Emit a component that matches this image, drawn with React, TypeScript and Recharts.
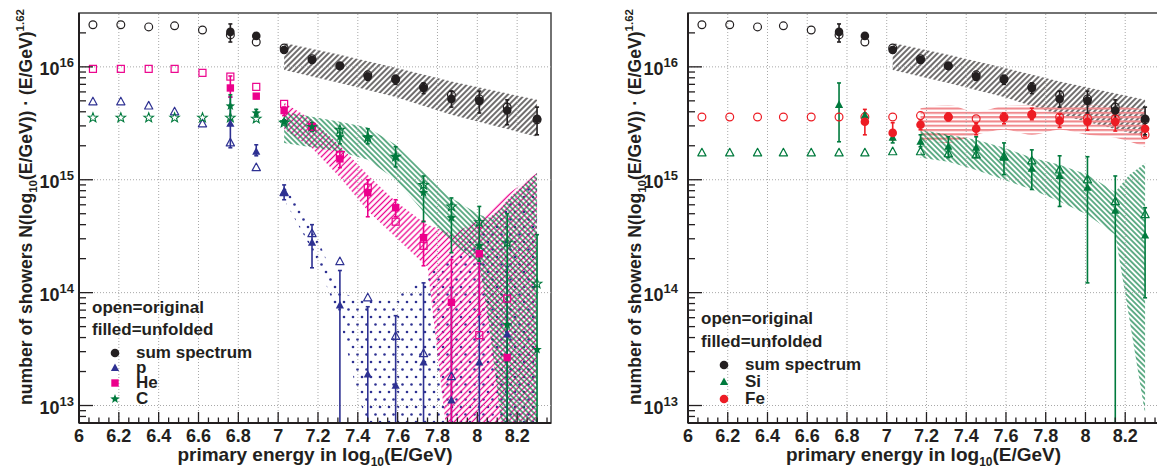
import React from 'react';
import {
  ComposedChart,
  Area,
  Scatter,
  ErrorBar,
  XAxis,
  YAxis,
  ReferenceLine,
  ReferenceArea,
} from 'recharts';

const FONT = '"Liberation Sans", Arial, Helvetica, sans-serif';
const INK = '#231f20';
const BLUE = '#2e3192';
const PINK = '#ec008c';
const GREEN = '#007a3d';
const RED = '#ed1c24';

const X_MIN = 6;
const X_MAX = 8.37;
const Y_MIN = 7e12;
const Y_MAX = 3e16;
const FLOOR = Y_MIN; // bars / bands that run off the bottom of the frame

// bin centres, log10(E/GeV)
const binX = [6.07, 6.21, 6.35, 6.48, 6.62, 6.76, 6.89, 7.03, 7.17, 7.31, 7.45, 7.59, 7.73, 7.87, 8.01, 8.15, 8.3];
const unfoldX = binX.slice(5); // 6.76 .. 8.30

// ---- sum spectrum (both panels)
const sumOpen = [2.36e16, 2.36e16, 2.26e16, 2.31e16, 2.12e16, 1.92e16, 1.66e16, 1.47e16, 1.18e16, 1.02e16, 8.5e15, 7.8e15, 6.65e15, 5.65e15, 5.2e15, 4.4e15, 3.4e15];
const sumFilled = [2.04e16, 1.88e16, 1.41e16, 1.15e16, 1.02e16, 8.2e15, 7.7e15, 6.5e15, 5.2e15, 5.0e15, 4.1e15, 3.47e15];
const sumHi = [2.4e16, 1.98e16, 1.5e16, 1.22e16, 1.08e16, 8.8e15, 8.4e15, 7.2e15, 6.1e15, 6.1e15, 5.1e15, 4.4e15];
const sumLo = [1.66e16, 1.8e16, 1.33e16, 1.08e16, 9.6e15, 7.6e15, 7.0e15, 5.8e15, 4.4e15, 3.9e15, 3.07e15, 2.5e15];
const sumBandX = [7.03, 7.31, 7.59, 7.87, 8.3];
const sumBandHi = [1.63e16, 1.28e16, 9.8e15, 7.4e15, 5.1e15];
const sumBandLo = [9.4e15, 7.2e15, 5.4e15, 3.76e15, 2.4e15];

// ---- p
const pOpen = [4.9e15, 4.9e15, 4.5e15, 4.0e15, 3.13e15, 2.12e15, 1.28e15, 7.7e14, 3.33e14, 1.88e14, 9.0e13, 4.1e13, 2.88e13, 1.8e13, null, null, null];
const pX = binX.slice(5, 16);
const pFilled = [3.13e15, 1.77e15, 7.8e14, 2.77e14, 7.7e13, 1.88e13, 1.5e13, 2.4e13, 1.11e13, 2.4e13, 4.25e13];
const pHi = [5.4e15, 2.04e15, 9.0e14, 4.0e14, 1.57e14, 7.5e13, 6.25e13, 1.22e14, 1.11e14, 1.8e14, 1.7e14];
const pLo = [1.92e15, 1.63e15, 6.65e14, 1.66e14, FLOOR, FLOOR, FLOOR, FLOOR, FLOOR, FLOOR, FLOOR];
const pBandX = [7.03, 7.17, 7.31, 7.4, 7.45, 7.59, 7.73, 7.87, 8.01, 8.15, 8.3];
const pBandHi = [8.7e14, 4.0e14, 1.0e14, 9.0e13, 8.7e13, 9.2e13, 1.3e14, 2.17e14, 3.26e14, 6.0e14, 1.0e15];
const pBandLo = [6.65e14, 2.4e14, 5.8e13, 1.2e13, FLOOR, FLOOR, FLOOR, FLOOR, FLOOR, FLOOR, FLOOR];

// ---- He
const heOpen = [9.6e15, 9.6e15, 9.6e15, 9.6e15, 8.85e15, 8.2e15, 6.65e15, 4.7e15, 2.94e15, 1.66e15, 8.5e14, 4.25e14, 2.6e14, null, 4.2e13, 8.85e13, null];
const heX = binX.slice(5, 16);
const heFilled = [6.5e15, 5.5e15, 4.1e15, 2.94e15, 1.53e15, 7.7e14, 5.65e14, 3.07e14, 8.2e13, 2.21e14, 2.66e13];
const heHi = [8.3e15, 5.7e15, 4.4e15, 3.2e15, 1.77e15, 1.0e15, 6.65e14, 4.3e14, 1.96e14, 3.76e14, 2.8e13];
const heLo = [5.4e15, 5.3e15, 3.7e15, 2.7e15, 1.28e15, 4.7e14, 4.7e14, 1.73e14, FLOOR, 6.4e13, 2.5e13];
const heBandX = [7.03, 7.17, 7.31, 7.45, 7.59, 7.73, 7.75, 7.84, 7.87, 8.01, 8.15, 8.3];
const heBandHi = [4.8e15, 3.4e15, 2.0e15, 1.1e15, 6.4e14, 4.2e14, 4.0e14, 3.5e14, 3.26e14, 4.4e14, 7.4e14, 1.15e15];
const heBandLo = [2.8e15, 1.9e15, 1.05e15, 5.3e14, 3.1e14, 1.8e14, 1.7e14, FLOOR, FLOOR, FLOOR, FLOOR, FLOOR];

// ---- C
const cOpen = [3.54e15, 3.54e15, 3.54e15, 3.54e15, 3.54e15, 3.54e15, 3.47e15, 3.2e15, 2.94e15, 2.77e15, 2.36e15, 1.6e15, 9.0e14, 5.8e14, 4.2e14, 2.77e14, 1.2e14];
const cFilled = [4.5e15, 3.9e15, 3.26e15, 2.94e15, 2.4e15, 2.4e15, 1.6e15, 7.7e14, 4.6e14, 2.6e14, 5.2e13, 3.13e13];
const cHi = [5.65e15, 4.2e15, 3.4e15, 3.2e15, 2.83e15, 2.83e15, 1.96e15, 1.08e15, 6.9e14, 5.8e14, 5.0e14, 3.26e14];
const cLo = [3.4e15, 3.6e15, 3.13e15, 2.7e15, 2.08e15, 2.08e15, 1.3e15, 4.25e14, 2.26e14, 1.9e14, FLOOR, FLOOR];
const cBandX = [7.03, 7.31, 7.45, 7.59, 7.73, 7.87, 8.01, 8.06, 8.12, 8.15, 8.3];
const cBandHi = [4.0e15, 3.26e15, 2.9e15, 2.04e15, 1.18e15, 6.9e14, 4.9e14, 4.6e14, 5.6e14, 6.6e14, 1.15e15];
const cBandLo = [2.12e15, 1.77e15, 1.5e15, 1.0e15, 5.2e14, 2.77e14, 1.8e14, 5.0e13, FLOOR, FLOOR, FLOOR];

// ---- Fe
const feOpen = [3.6e15, 3.6e15, 3.6e15, 3.6e15, 3.6e15, 3.6e15, 3.6e15, 3.6e15, 3.7e15, 3.6e15, 3.47e15, 3.6e15, 3.76e15, 3.6e15, 3.5e15, 3.47e15, 2.5e15];
const feX = binX.slice(6);
const feFilled = [3.26e15, 2.6e15, 3.07e15, 3.6e15, 2.83e15, 3.54e15, 3.8e15, 3.33e15, 3.26e15, 3.26e15, 2.83e15];
const feHi = [4.2e15, 3.2e15, 3.4e15, 3.9e15, 3.13e15, 3.9e15, 4.3e15, 3.8e15, 3.8e15, 3.75e15, 3.3e15];
const feLo = [2.5e15, 2.26e15, 2.77e15, 3.33e15, 2.5e15, 3.13e15, 3.4e15, 2.9e15, 2.75e15, 2.7e15, 2.4e15];
const feBandX = [7.17, 7.31, 7.45, 7.59, 7.73, 7.87, 8.01, 8.15, 8.3];
const feBandHi = [4.3e15, 4.6e15, 4.0e15, 4.5e15, 4.6e15, 4.5e15, 4.6e15, 4.5e15, 4.2e15];
const feBandLo = [2.26e15, 2.12e15, 2.5e15, 2.77e15, 2.5e15, 2.77e15, 2.5e15, 2.36e15, 1.96e15];

// ---- Si
const siOpen = [1.73e15, 1.73e15, 1.73e15, 1.73e15, 1.73e15, 1.73e15, 1.73e15, 1.77e15, 1.77e15, 1.7e15, 1.66e15, 1.6e15, 1.47e15, 1.22e15, 1.0e15, 6.4e14, 4.9e14];
const siFilled = [4.6e15, 3.7e15, 2.36e15, 2.17e15, 1.96e15, 1.92e15, 1.57e15, 1.25e15, 1.08e15, 8.5e14, 5.3e14, 3.2e14];
const siHi = [7.2e15, 3.9e15, 2.5e15, 2.5e15, 2.4e15, 2.4e15, 2.12e15, 1.84e15, 1.63e15, 1.6e15, 1.08e15, 5.65e14];
const siLo = [2.17e15, 3.5e15, 2.12e15, 1.96e15, 1.57e15, 1.57e15, 1.11e15, 8.2e14, 5.8e14, 1.22e14, FLOOR, 9.0e13];
const siBandX = [7.17, 7.31, 7.45, 7.59, 7.73, 7.87, 8.01, 8.15, 8.22, 8.3];
const siBandHi = [2.77e15, 2.5e15, 2.26e15, 1.92e15, 1.57e15, 1.36e15, 1.11e15, 7.8e14, 1.1e15, 1.4e15];
const siBandLo = [1.57e15, 1.44e15, 1.22e15, 1.0e15, 8.2e14, 6.4e14, 4.9e14, 3.26e14, 6.0e13, 8.4e12];

// axis ticks
const xTicks = Array.from({ length: 48 }, (_, i) => (600 + 5 * i) / 100);
const gridX = [6.2, 6.4, 6.6, 6.8, 7, 7.2, 7.4, 7.6, 7.8, 8, 8.2];
const gridY = [1e13, 1e14, 1e15, 1e16];
const yTicks: number[] = [];
for (let e = 12; e <= 16; e++) {
  for (let m = 1; m <= 9; m++) {
    const v = m * Math.pow(10, e);
    if (v > Y_MIN * 1.001 && v < Y_MAX * 0.999) yTicks.push(v);
  }
}

type Kind = 'circle' | 'triangle' | 'square' | 'star';
type Pt = { x: number; y: number; err?: [number, number] };
type Series = { kind: Kind; color: string; open: boolean; points: Pt[] };
type Band = { key: string; xs: number[]; lo: number[]; hi: number[]; pattern: string; curve?: 'linear' | 'monotone' };

function pts(xs: number[], ys: (number | null)[], lo?: number[], hi?: number[]): Pt[] {
  const out: Pt[] = [];
  xs.forEach((x, i) => {
    const y = ys[i];
    if (y == null) return;
    out.push(lo && hi ? { x, y, err: [y - lo[i], hi[i] - y] } : { x, y });
  });
  return out;
}

function Marker({ kind, color, open, cx, cy }: { kind: Kind; color: string; open: boolean; cx: number; cy: number }) {
  const fill = open ? 'none' : color;
  const sw = open ? 1.2 : 0;
  if (kind === 'circle') {
    return <circle cx={cx} cy={cy} r={open ? 3.9 : 4.3} fill={fill} stroke={color} strokeWidth={sw} />;
  }
  if (kind === 'square') {
    const h = open ? 3.5 : 3.7;
    return <rect x={cx - h} y={cy - h} width={2 * h} height={2 * h} fill={fill} stroke={color} strokeWidth={sw} />;
  }
  if (kind === 'triangle') {
    return (
      <polygon
        points={`${cx},${cy - 4.6} ${cx + 4.1},${cy + 3} ${cx - 4.1},${cy + 3}`}
        fill={fill}
        stroke={color}
        strokeWidth={sw}
        strokeLinejoin="round"
      />
    );
  }
  const p: string[] = [];
  for (let i = 0; i < 10; i++) {
    const r = i % 2 === 0 ? 5 : 2.1;
    const a = -Math.PI / 2 + (i * Math.PI) / 5;
    p.push(`${cx + r * Math.cos(a)},${cy + r * Math.sin(a)}`);
  }
  return <polygon points={p.join(' ')} fill={fill} stroke={color} strokeWidth={open ? 1.1 : 0} />;
}

function XTick(props: any) {
  const { x, y, payload } = props;
  const v = payload.value as number;
  const major = Math.abs(v * 5 - Math.round(v * 5)) < 1e-6;
  return (
    <g>
      <line x1={x} x2={x} y1={y} y2={y - (major ? 11 : 5.5)} stroke={INK} strokeWidth={1.3} />
      {major && (
        <text x={x} y={y + 19} textAnchor="middle" fontSize={18} fontWeight="bold" fontFamily={FONT} fill={INK}>
          {String(Math.round(v * 10) / 10)}
        </text>
      )}
    </g>
  );
}

function YTick(props: any) {
  const { x, y, payload, gap } = props;
  const e = Math.log10(payload.value);
  const major = Math.abs(e - Math.round(e)) < 1e-6;
  return (
    <g>
      <line x1={x} x2={x + (major ? 14 : 7)} y1={y} y2={y} stroke={INK} strokeWidth={1.3} />
      {major && (
        <text x={x - gap} y={y + 8} textAnchor="end" fontSize={18} fontWeight="bold" fontFamily={FONT} fill={INK}>
          10<tspan dy={-8} fontSize={13}>{Math.round(e)}</tspan>
        </text>
      )}
    </g>
  );
}

function Panel({ left, width, bands, series, gap }: { left: number; width: number; bands: Band[]; series: Series[]; gap: number }) {
  return (
    <div style={{ position: 'absolute', left, top: 0 }}>
      <ComposedChart width={width} height={475} margin={{ top: 13, right: 9, bottom: 0, left: 0 }}>
        <XAxis
          type="number"
          dataKey="x"
          domain={[X_MIN, X_MAX]}
          allowDataOverflow
          ticks={xTicks}
          interval={0}
          height={52}
          tickSize={0}
          tickMargin={0}
          tickLine={false}
          axisLine={{ stroke: INK, strokeWidth: 2 }}
          tick={(p: any) => <XTick {...p} />}
        />
        <YAxis
          type="number"
          scale="log"
          domain={[Y_MIN, Y_MAX]}
          allowDataOverflow
          ticks={yTicks}
          interval={0}
          width={79}
          tickSize={0}
          tickMargin={0}
          tickLine={false}
          axisLine={{ stroke: INK, strokeWidth: 2 }}
          tick={(p: any) => <YTick {...p} gap={gap} />}
        />
        {gridX.map(x => (
          <ReferenceLine key={'gx' + x} x={x} stroke="#a8a8a8" strokeDasharray="1 2" />
        ))}
        {gridY.map(y => (
          <ReferenceLine key={'gy' + y} y={y} stroke="#a8a8a8" strokeDasharray="1 2" />
        ))}
        {bands.map(b => (
          <Area
            key={b.key}
            data={b.xs.map((x, i) => ({ x, range: [b.lo[i], b.hi[i]] }))}
            dataKey="range"
            type={b.curve ?? 'linear'}
            stroke="none"
            fill={`url(#${b.pattern})`}
            fillOpacity={1}
            isAnimationActive={false}
          />
        ))}
        {series.map((s, i) => (
          <Scatter
            key={i}
            data={s.points}
            dataKey="y"
            isAnimationActive={false}
            shape={(p: any) => <Marker kind={s.kind} color={s.color} open={s.open} cx={p.cx} cy={p.cy} />}
          >
            {!s.open && <ErrorBar dataKey="err" direction="y" width={2} stroke={s.color} strokeWidth={1.6} />}
          </Scatter>
        ))}
        <ReferenceArea x1={X_MIN} x2={X_MAX} y1={Y_MIN} y2={Y_MAX} fill="none" stroke="#444" strokeWidth={1.5} />
      </ComposedChart>
    </div>
  );
}

const leftBands: Band[] = [
  { key: 'sum', xs: sumBandX, lo: sumBandLo, hi: sumBandHi, pattern: 'hatchBlack' },
  { key: 'p', xs: pBandX, lo: pBandLo, hi: pBandHi, pattern: 'dotsBlue' },
  { key: 'he', xs: heBandX, lo: heBandLo, hi: heBandHi, pattern: 'hatchPink' },
  { key: 'c', xs: cBandX, lo: cBandLo, hi: cBandHi, pattern: 'hatchGreen' },
];

const rightBands: Band[] = [
  { key: 'sum', xs: sumBandX, lo: sumBandLo, hi: sumBandHi, pattern: 'hatchBlack' },
  { key: 'fe', xs: feBandX, lo: feBandLo, hi: feBandHi, pattern: 'linesRed', curve: 'monotone' },
  { key: 'si', xs: siBandX, lo: siBandLo, hi: siBandHi, pattern: 'hatchGreen' },
];

const leftSeries: Series[] = [
  { kind: 'triangle', color: BLUE, open: true, points: pts(binX, pOpen) },
  { kind: 'square', color: PINK, open: true, points: pts(binX, heOpen) },
  { kind: 'star', color: GREEN, open: true, points: pts(binX, cOpen) },
  { kind: 'circle', color: INK, open: true, points: pts(binX, sumOpen) },
  { kind: 'triangle', color: BLUE, open: false, points: pts(pX, pFilled, pLo, pHi) },
  { kind: 'square', color: PINK, open: false, points: pts(heX, heFilled, heLo, heHi) },
  { kind: 'star', color: GREEN, open: false, points: pts(unfoldX, cFilled, cLo, cHi) },
  { kind: 'circle', color: INK, open: false, points: pts(unfoldX, sumFilled, sumLo, sumHi) },
];

const rightSeries: Series[] = [
  { kind: 'triangle', color: GREEN, open: true, points: pts(binX, siOpen) },
  { kind: 'circle', color: RED, open: true, points: pts(binX, feOpen) },
  { kind: 'circle', color: INK, open: true, points: pts(binX, sumOpen) },
  { kind: 'triangle', color: GREEN, open: false, points: pts(unfoldX, siFilled, siLo, siHi) },
  { kind: 'circle', color: RED, open: false, points: pts(feX, feFilled, feLo, feHi) },
  { kind: 'circle', color: INK, open: false, points: pts(unfoldX, sumFilled, sumLo, sumHi) },
];

const leftLegend: { kind: Kind; color: string; label: string }[] = [
  { kind: 'circle', color: INK, label: 'sum spectrum' },
  { kind: 'triangle', color: BLUE, label: 'p' },
  { kind: 'square', color: PINK, label: 'He' },
  { kind: 'star', color: GREEN, label: 'C' },
];
const rightLegend: { kind: Kind; color: string; label: string }[] = [
  { kind: 'circle', color: INK, label: 'sum spectrum' },
  { kind: 'triangle', color: GREEN, label: 'Si' },
  { kind: 'circle', color: RED, label: 'Fe' },
];

function Legend({ x, openY, filledY, rowYs, entries }: { x: number; openY: number; filledY: number; rowYs: number[]; entries: typeof leftLegend }) {
  const t = { fontSize: 17, fontWeight: 'bold' as const, fontFamily: FONT, fill: INK };
  return (
    <g>
      <text x={x} y={openY} {...t}>open=original</text>
      <text x={x} y={filledY} {...t}>filled=unfolded</text>
      {entries.map((e, i) => (
        <g key={e.label}>
          <Marker kind={e.kind} color={e.color} open={false} cx={x + 23} cy={rowYs[i] - 5} />
          <text x={x + 44} y={rowYs[i]} {...t}>{e.label}</text>
        </g>
      ))}
    </g>
  );
}

function Titles({ chartLeft, plotLeft, plotRight }: { chartLeft: number; plotLeft: number; plotRight: number }) {
  const t = { fontWeight: 'bold' as const, fontFamily: FONT, fill: INK };
  const cx = (plotLeft + plotRight) / 2;
  return (
    <g>
      <text x={cx} y={461} textAnchor="middle" fontSize={19} {...t}>
        primary energy in log<tspan dy={5} fontSize={12}>10</tspan>
        <tspan dy={-5}>(E/GeV)</tspan>
      </text>
      <text transform={`translate(${chartLeft + 32} 207) rotate(-90)`} textAnchor="middle" fontSize={17.6} {...t}>
        number of showers N(log<tspan dy={5} fontSize={11.5}>10</tspan>
        <tspan dy={-5}>(E/GeV)) · (E/GeV)</tspan>
        <tspan dy={-8} fontSize={11.5}>1.62</tspan>
      </text>
    </g>
  );
}

export default function App() {
  return (
    <div style={{ position: 'absolute', left: 0, top: 0, width: 1157, height: 475, overflow: 'hidden', background: '#fff' }}>
      <svg width={0} height={0} style={{ position: 'absolute' }}>
        <defs>
          <pattern id="hatchBlack" patternUnits="userSpaceOnUse" width={4} height={4} patternTransform="rotate(45)">
            <line x1={2} y1={0} x2={2} y2={4} stroke={INK} strokeWidth={1.3} />
          </pattern>
          <pattern id="hatchPink" patternUnits="userSpaceOnUse" width={4.2} height={4.2} patternTransform="rotate(45)">
            <line x1={2.1} y1={0} x2={2.1} y2={4.2} stroke={PINK} strokeWidth={1.3} />
          </pattern>
          <pattern id="hatchGreen" patternUnits="userSpaceOnUse" width={3.8} height={3.8} patternTransform="rotate(-45)">
            <line x1={1.9} y1={0} x2={1.9} y2={3.8} stroke={GREEN} strokeWidth={1.2} />
          </pattern>
          <pattern id="linesRed" patternUnits="userSpaceOnUse" width={8} height={4.3}>
            <rect x={0} y={0} width={8} height={2.1} fill="#f08a8e" />
          </pattern>
          <pattern id="dotsBlue" patternUnits="userSpaceOnUse" width={9} height={15}>
            <circle cx={2} cy={2} r={1.3} fill={BLUE} />
            <circle cx={6.5} cy={9.5} r={1.3} fill={BLUE} />
          </pattern>
        </defs>
      </svg>
      <Panel left={0} width={560} bands={leftBands} series={leftSeries} gap={5} />
      <Panel left={609} width={559} bands={rightBands} series={rightSeries} gap={10} />
      <svg width={1157} height={475} style={{ position: 'absolute', left: 0, top: 0, pointerEvents: 'none' }}>
        <Titles chartLeft={0} plotLeft={79} plotRight={551} />
        <Titles chartLeft={609} plotLeft={688} plotRight={1159} />
        <Legend x={92} openY={313} filledY={335} rowYs={[358, 373, 388, 404]} entries={leftLegend} />
        <Legend x={701} openY={324} filledY={347} rowYs={[370, 387, 404]} entries={rightLegend} />
      </svg>
    </div>
  );
}
